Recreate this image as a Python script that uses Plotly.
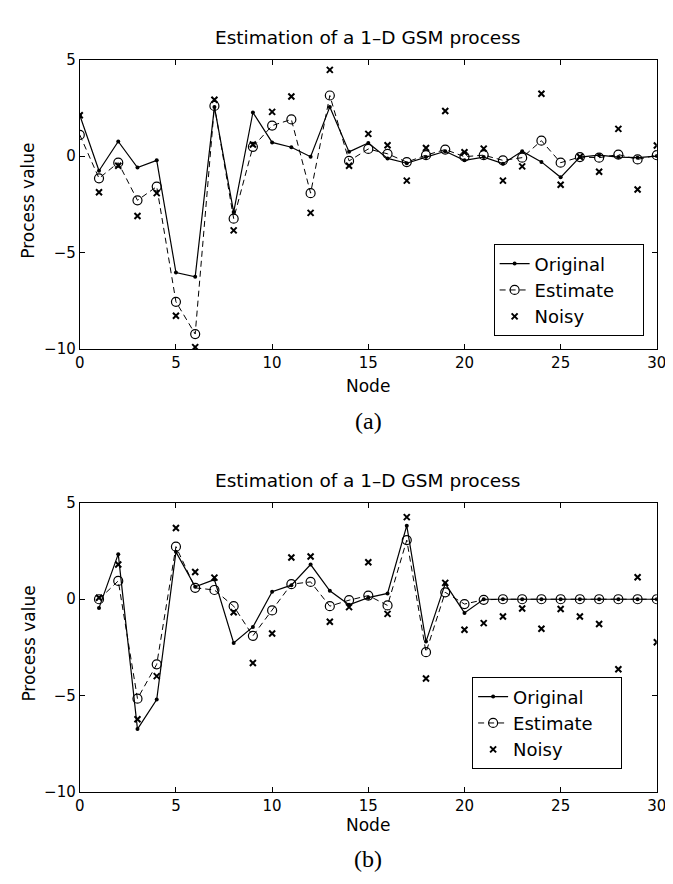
import plotly.graph_objects as go

# ---- data: panel (a) ----
nodes_a = list(range(0, 31))
orig_a = [2.12, -0.76, 0.76, -0.59, -0.22, -6.03, -6.25, 2.55, -2.9, 2.26,
          0.71, 0.46, -0.03, 2.55, 0.22, 0.68, -0.12, -0.37, -0.05, 0.25,
          -0.22, -0.05, -0.39, 0.25, -0.3, -1.1, -0.05, 0.05, -0.05, -0.08, 0.0]
est_a = [1.1, -1.15, -0.34, -2.29, -1.58, -7.55, -9.22, 2.6, -3.24, 0.48,
         1.58, 1.9, -1.92, 3.14, -0.25, 0.37, 0.12, -0.31, 0.05, 0.34,
         -0.03, 0.05, -0.22, -0.08, 0.8, -0.34, -0.05, -0.08, 0.08, -0.17, 0.05]
noisy_a = [2.12, -1.87, -0.5, -3.1, -1.92, -8.27, -9.9, 2.92, -3.85, 0.6,
           2.29, 3.09, -2.94, 4.47, -0.5, 1.15, 0.56, -1.27, 0.42, 2.34,
           0.2, 0.39, -1.27, -0.53, 3.23, -1.48, -0.03, -0.81, 1.41, -1.73, 0.55]

# ---- data: panel (b) ----
nodes_b = list(range(1, 31))
orig_b = [-0.45, 2.34, -6.74, -5.21, 2.46, 0.65, 1.02, -2.27, -1.44, 0.39,
          0.73, 1.8, 0.44, -0.29, 0.08, 0.3, 3.82, -2.2, 0.81, -0.71,
          0.0, 0.0, 0.0, 0.0, 0.0, 0.0, 0.0, 0.0, 0.0, 0.0]
est_b = [0.0, 0.95, -5.16, -3.38, 2.73, 0.59, 0.48, -0.36, -1.9, -0.58,
         0.78, 0.9, -0.36, -0.05, 0.19, -0.32, 3.07, -2.75, 0.36, -0.25,
         -0.03, 0.0, 0.0, 0.0, 0.0, 0.0, 0.0, 0.0, 0.0, 0.0]
noisy_b = [0.08, 1.8, -6.23, -3.99, 3.7, 1.41, 1.12, -0.68, -3.31, -1.78,
           2.17, 2.22, -1.17, -0.41, 1.92, -0.76, 4.26, -4.11, 0.85, -1.58,
           -1.24, -0.9, -0.48, -1.53, -0.51, -0.9, -1.29, -3.63, 1.14, -2.23]

title_text = "Estimation of a 1\u2013D GSM process"
series_names = ["Original", "Estimate", "Noisy"]
x_ticks = [0, 5, 10, 15, 20, 25, 30]
y_ticks = [-10, -5, 0, 5]

FONT = "DejaVu Sans"
W, H = 673, 884
PAD = "\u00a0\u00a0\u00a0\u00a0"  # right padding inside legend box

fig = go.Figure()

def add_panel(xs, orig, est, noisy, xa, ya, leg):
    fig.add_trace(go.Scatter(
        x=xs, y=orig, name=series_names[0] + PAD, mode="lines+markers",
        line=dict(color="black", width=1.2),
        marker=dict(color="black", size=4, symbol="circle"),
        xaxis=xa, yaxis=ya, legend=leg))
    fig.add_trace(go.Scatter(
        x=xs, y=est, name=series_names[1] + PAD, mode="lines+markers",
        line=dict(color="black", width=1, dash="6px,4px"),
        marker=dict(color="black", size=9, symbol="circle-open",
                    line=dict(width=1.2, color="black")),
        xaxis=xa, yaxis=ya, legend=leg))
    fig.add_trace(go.Scatter(
        x=xs, y=noisy, name=series_names[2] + PAD, mode="markers",
        marker=dict(color="black", size=6, symbol="x-thin",
                    line=dict(width=2, color="black")),
        xaxis=xa, yaxis=ya, legend=leg))

add_panel(nodes_a, orig_a, est_a, noisy_a, "x", "y", "legend")
add_panel(nodes_b, orig_b, est_b, noisy_b, "x2", "y2", "legend2")

xdom = [68.3 / W, 658.5 / W]
ax_common = dict(showline=True, linecolor="black", linewidth=1, mirror="ticks",
                 ticks="inside", ticklen=5, tickcolor="black", tickwidth=1,
                 showgrid=False, zeroline=False,
                 tickfont=dict(family=FONT, size=15, color="black"))

leg_common = dict(xanchor="right", yanchor="bottom",
                  bordercolor="black", borderwidth=1, bgcolor="white",
                  font=dict(family=FONT, size=18, color="black"),
                  tracegroupgap=0, itemwidth=30)

fig.update_layout(
    width=W, height=H,
    margin=dict(l=0, r=0, t=0, b=0),
    paper_bgcolor="white", plot_bgcolor="white",
    font=dict(family=FONT, color="black"),
    xaxis=dict(domain=xdom, range=[0, 30], tickvals=x_ticks, anchor="y", **ax_common),
    yaxis=dict(domain=[1 - 339 / H, 1 - 43.5 / H], range=[-10, 5], tickvals=y_ticks,
               anchor="x", **ax_common),
    xaxis2=dict(domain=xdom, range=[0, 30], tickvals=x_ticks, anchor="y2", **ax_common),
    yaxis2=dict(domain=[1 - 791 / H, 1 - 496 / H], range=[-10, 5], tickvals=y_ticks,
                anchor="x2", **ax_common),
    legend=dict(x=645 / W, y=1 - 326 / H, **leg_common),
    legend2=dict(x=623 / W, y=1 - 768 / H, **leg_common),
    showlegend=True,
)

def ann(text, xpx, ypx, size, family=FONT, angle=0):
    fig.add_annotation(text=text, x=xpx / W, y=1 - ypx / H, xref="paper", yref="paper",
                       xanchor="center", yanchor="middle", showarrow=False,
                       textangle=angle, font=dict(family=family, size=size, color="black"))

mid_x = (68.3 + 658.5) / 2
ann(title_text, mid_x, 21, 18.5)
ann(title_text, mid_x, 473, 18.5)
ann("Node", mid_x, 377, 17)
ann("Node", mid_x, 825, 17)
ann("(a)", mid_x, 412, 24, family="Liberation Serif")
ann("(b)", mid_x, 859, 24, family="Liberation Serif")
ann("Process value", 16, 188, 17, angle=-90)
ann("Process value", 16, 640, 17, angle=-90)

fig.write_html("out.html")
